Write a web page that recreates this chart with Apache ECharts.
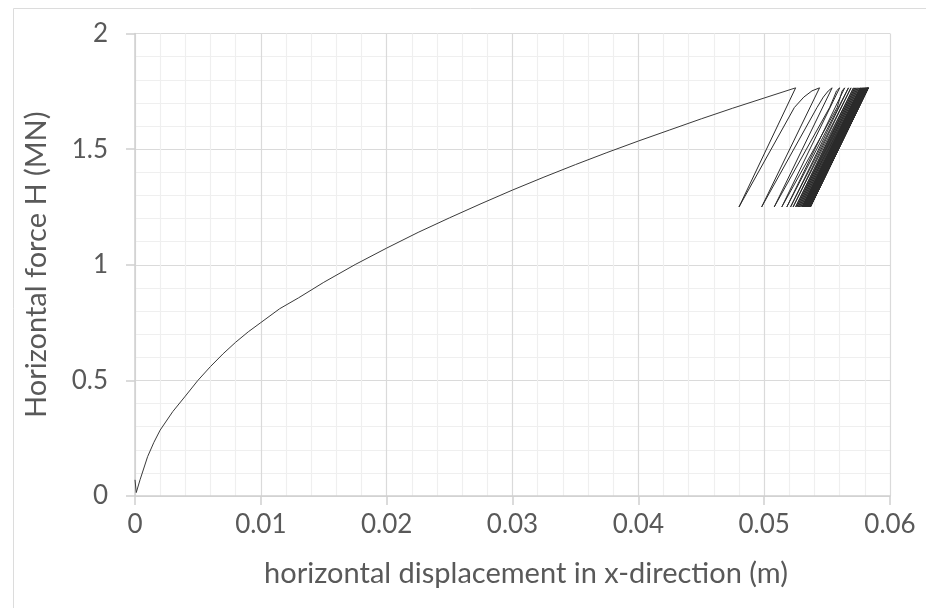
<!DOCTYPE html>
<html>
<head>
<meta charset="utf-8">
<script src="https://cdn.jsdelivr.net/npm/echarts@6/dist/echarts.min.js"></script>
<style>
  html, body { margin: 0; padding: 0; background: #ffffff; }
  #chart { width: 926px; height: 608px; }
</style>
</head>
<body>
<div id="chart"></div>
<script>
// Monotonic loading curve (displacement in m, force in MN)
const mainX = [0, 0.0001, 0.0004, 0.001, 0.0015, 0.002, 0.003, 0.004, 0.005, 0.006, 0.007, 0.008, 0.009, 0.010, 0.0115, 0.013, 0.015, 0.0175, 0.020, 0.0225, 0.025, 0.0275, 0.030, 0.0325, 0.035, 0.0375, 0.040, 0.0425, 0.045, 0.0475, 0.050, 0.0525];
const mainY = [0.07, 0.015, 0.07, 0.17, 0.232, 0.285, 0.365, 0.432, 0.5, 0.56, 0.615, 0.665, 0.71, 0.75, 0.81, 0.857, 0.924, 1.001, 1.072, 1.14, 1.203, 1.264, 1.323, 1.379, 1.433, 1.485, 1.535, 1.583, 1.631, 1.677, 1.721, 1.765];

// Cyclic part: load levels and displacements at each peak / trough
const peakForce = 1.765;
const troughForce = 1.25;
const peakX = [0.0525, 0.0544, 0.0554, 0.0560, 0.0564, 0.0567, 0.0569, 0.0571, 0.0572, 0.0573, 0.0574, 0.0575, 0.0576, 0.05765, 0.0577, 0.05775, 0.0578, 0.05784, 0.05788, 0.05792, 0.05795, 0.05798, 0.05801, 0.05804, 0.05806, 0.05808, 0.0581, 0.05812, 0.05814, 0.05816, 0.05818, 0.0582, 0.05821, 0.05822, 0.05823, 0.05824, 0.05825, 0.05826, 0.05827, 0.05828, 0.05829];
const troughX = [0.0480, 0.0498, 0.0508, 0.0514, 0.0518, 0.0521, 0.0523, 0.0525, 0.0526, 0.0527, 0.0528, 0.0529, 0.0530, 0.05305, 0.0531, 0.05315, 0.0532, 0.05324, 0.05328, 0.05332, 0.05335, 0.05338, 0.05341, 0.05344, 0.05346, 0.05348, 0.0535, 0.05352, 0.05354, 0.05356, 0.05358, 0.0536, 0.05361, 0.05362, 0.05363, 0.05364, 0.05365, 0.05366, 0.05367, 0.05368];
// Rounded tops of the first reloading branches
const kneeForce = [1.68, 1.725, 1.752];
const kneeLowX = [0.0524, 0.0542, 0.0552, 0.0558];
const kneeMidX = [0.05315, 0.0547, 0.05555, 0.05605];
const kneeHighX = [0.0538, 0.0551, 0.05575, 0.0562];

// Axis ticks
const xTicks = [0, 0.01, 0.02, 0.03, 0.04, 0.05, 0.06];
const yTicks = [0, 0.5, 1, 1.5, 2];

const mainData = [];
for (let i = 0; i < mainX.length; i++) mainData.push([mainX[i], mainY[i]]);
const cycleData = [[peakX[0], peakForce]];
for (let i = 0; i < troughX.length; i++) {
  cycleData.push([troughX[i], troughForce]);
  if (i < kneeLowX.length) {
    cycleData.push([kneeLowX[i], kneeForce[0]]);
    cycleData.push([kneeMidX[i], kneeForce[1]]);
    cycleData.push([kneeHighX[i], kneeForce[2]]);
  }
  cycleData.push([peakX[i + 1], peakForce]);
}

const font = 'Lato, "Open Sans", sans-serif';
const txt = '#595959';

const chart = echarts.init(document.getElementById('chart'), null, { renderer: 'canvas' });
chart.setOption({
  animation: false,
  backgroundColor: '#ffffff',
  graphic: [{
    type: 'rect',
    shape: { x: 13.5, y: 8.5, width: 1000, height: 1000 },
    style: { fill: 'none', stroke: '#dcdcdc', lineWidth: 1 },
    silent: true, z: -10
  }],
  grid: { left: 135, top: 33.5, right: 36, bottom: 112, containLabel: false },
  xAxis: {
    type: 'value',
    min: xTicks[0], max: xTicks[xTicks.length - 1], interval: 0.01,
    name: 'horizontal displacement in x-direction (m)',
    nameLocation: 'middle', nameGap: 63,
    nameTextStyle: { fontFamily: font, fontSize: 29, color: txt, padding: [0, 0, 0, 27] },
    axisLine: { show: true, onZero: false, lineStyle: { color: '#d0d0d0', width: 1.5 } },
    axisTick: { show: true, inside: false, length: 9, lineStyle: { color: '#d0d0d0', width: 1.5 } },
    axisLabel: { fontFamily: font, fontSize: 26, color: txt, margin: 16,
      formatter: v => String(+v.toFixed(2)) },
    splitLine: { show: true, lineStyle: { color: '#dadada', width: 1.2 } },
    minorTick: { show: false, splitNumber: 5 },
    minorSplitLine: { show: true, lineStyle: { color: '#efefef', width: 1.2 } }
  },
  yAxis: {
    type: 'value',
    min: yTicks[0], max: yTicks[yTicks.length - 1], interval: 0.5,
    name: 'Horizontal force H (MN)',
    nameLocation: 'middle', nameGap: 84, nameRotate: 90,
    nameTextStyle: { fontFamily: font, fontSize: 29, color: txt },
    axisLine: { show: true, lineStyle: { color: '#d0d0d0', width: 1.5 } },
    axisTick: { show: true, inside: false, length: 9, lineStyle: { color: '#d0d0d0', width: 1.5 } },
    axisLabel: { fontFamily: font, fontSize: 26, color: txt, margin: 27,
      formatter: v => String(+v.toFixed(1)) },
    splitLine: { show: true, lineStyle: { color: '#dadada', width: 1.2 } },
    minorTick: { show: false, splitNumber: 5 },
    minorSplitLine: { show: true, lineStyle: { color: '#efefef', width: 1.2 } }
  },
  series: [{
    type: 'line',
    data: mainData,
    showSymbol: false,
    symbol: 'none',
    lineStyle: { color: '#3a3a3a', width: 1 },
    clip: false
  }, {
    type: 'line',
    data: cycleData,
    showSymbol: false,
    symbol: 'none',
    lineStyle: { color: '#2a2a2a', width: 1 },
    clip: false
  }]
});
</script>
</body>
</html>
